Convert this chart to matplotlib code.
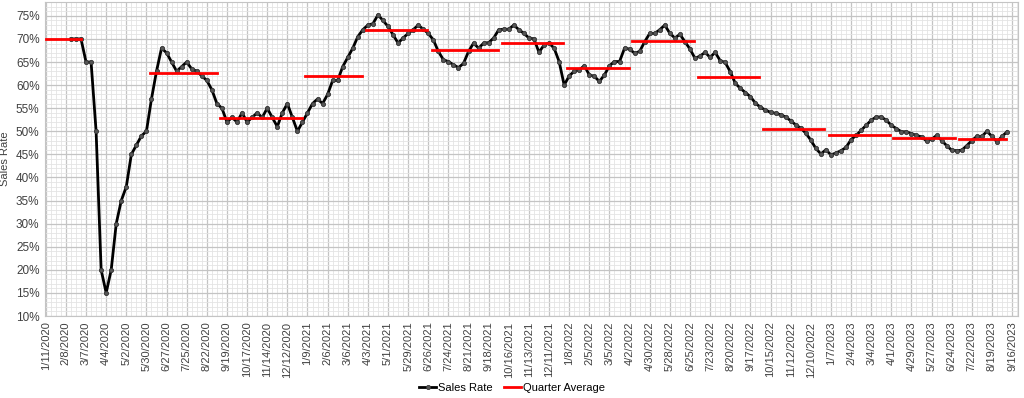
import pandas as pd
import matplotlib
matplotlib.use('Agg')
import matplotlib.pyplot as plt
import matplotlib.dates as mdates
from matplotlib.ticker import MultipleLocator, FixedLocator, FormatStrFormatter

plt.rcParams['font.family'] = ['Liberation Sans', 'DejaVu Sans']

# weekly sales rate (%) starting 2/15/2020
first_week = '2020-02-15'
sales_rate = [
    70, 70, 70, 65, 65, 50, 20, 15, 20, 30, 35, 38, 45, 47, 49, 50,
    57, 63, 68, 67, 65, 63, 64, 65, 63.5, 63, 62, 61, 59, 56, 55,
    52, 53, 52, 54, 52, 53, 54, 53, 55, 53, 51, 54, 56, 53, 50,
    52, 54, 56, 57, 56, 58, 61, 61, 64, 66, 68, 70.5, 72, 73, 73.3,
    75.2, 74, 72.7, 70.9, 69.1, 70.2, 71.2, 72, 73, 72.1, 71.2, 69.8,
    67.3, 65.5, 65.1, 64.4, 63.8, 64.7, 67.3, 69.1, 68, 69.1, 69.2,
    70.2, 72, 72.1, 72.1, 73, 72, 71.2, 70.2, 70, 67.1, 68.7, 69.1,
    68, 65.1, 60, 62, 63, 63.3, 64.2, 62.2, 61.9, 60.8, 62.2, 64.2,
    65.1, 65.1, 68, 67.8, 66.9, 67.3, 69.4, 71.2, 71.2, 72, 73, 71.2,
    70.2, 71, 69.4, 67.8, 65.8, 66.3, 67.1, 66, 67.1, 65.3, 64.9,
    62.9, 60.4, 59.3, 58.4, 57.5, 56.1, 55.2, 54.6, 54.1, 53.9, 53.6,
    53.1, 52.3, 51.4, 50.7, 49.6, 48.1, 46.3, 45.1, 46, 44.9, 45.3,
    45.8, 46.5, 48.2, 49.1, 50.2, 51.3, 52.4, 53.1, 53.1, 52.4, 51.3,
    50.6, 49.9, 49.9, 49.5, 49.1, 48.8, 47.9, 48.3, 49.1, 48, 46.9,
    45.9, 45.8, 45.9, 46.9, 48, 48.9, 48.9, 50, 48.9, 47.7, 48.9, 49.9,
]

# quarter averages (%)
q_start = ['2020-01-11', '2020-06-04', '2020-09-10', '2021-01-06', '2021-03-31',
           '2021-07-01', '2021-10-06', '2022-01-05', '2022-04-06', '2022-07-06',
           '2022-10-05', '2023-01-04', '2023-04-04', '2023-07-04']
q_end = ['2020-02-29', '2020-09-05', '2021-01-01', '2021-03-26', '2021-06-24',
         '2021-10-01', '2021-12-31', '2022-04-01', '2022-06-30', '2022-09-29',
         '2022-12-29', '2023-03-30', '2023-06-28', '2023-09-07']
q_avg = [70.0, 62.6, 52.9, 61.9, 72.0, 67.5, 69.2, 63.8, 69.6, 61.8,
         50.6, 49.1, 48.5, 48.4]

tick_first = '2020-01-11'
tick_last = '2023-09-16'

weeks = pd.date_range(first_week, periods=len(sales_rate), freq='7D')
ticks = pd.date_range(tick_first, tick_last, freq='28D')
minor = pd.date_range(tick_first, '2023-09-30', freq='7D')

fig = plt.figure(figsize=(10.24, 3.98), dpi=100)
ax = fig.add_axes([0.044, 0.206, 0.950, 0.789])

ax.plot(weeks, sales_rate, color='black', lw=2, marker='o', ms=3,
        mfc='#555555', mec='#333333', mew=0.6, label='Sales Rate', zorder=3)
for i, (s, e, v) in enumerate(zip(q_start, q_end, q_avg)):
    ax.plot([pd.Timestamp(s), pd.Timestamp(e)], [v, v], color='red', lw=2,
            label='Quarter Average' if i == 0 else None, zorder=4)

ax.set_ylim(10, 78)
ax.set_xlim(pd.Timestamp('2020-01-10'), pd.Timestamp('2023-09-24'))
ax.yaxis.set_major_locator(MultipleLocator(5))
ax.yaxis.set_minor_locator(MultipleLocator(1))
ax.yaxis.set_major_formatter(FormatStrFormatter('%d%%'))
ax.set_yticks([v for v in range(10, 80, 5)])
ax.set_xticks(mdates.date2num(ticks))
ax.set_xticklabels(['{}/{}/{}'.format(d.month, d.day, d.year) for d in ticks],
                   rotation=90)
ax.xaxis.set_minor_locator(FixedLocator(mdates.date2num(minor)))

ax.grid(which='major', color='#c4c4c4', lw=0.9)
ax.grid(which='minor', color='#e4e4e4', lw=0.6)
ax.set_axisbelow(True)
ax.tick_params(which='both', length=0)
ax.tick_params(axis='x', labelsize=8, colors='#404040', pad=4)
ax.tick_params(axis='y', labelsize=8.5, colors='#404040', pad=4)
for sp in ax.spines.values():
    sp.set_color('#c4c4c4')

ax.set_ylabel('Sales Rate', fontsize=8, color='#404040', labelpad=4)

fig.legend(loc='center', bbox_to_anchor=(0.5, 0.025), ncol=2, frameon=False,
           fontsize=8, handlelength=1.5, handletextpad=0.2, columnspacing=1.0)

plt.savefig('out.png', dpi=100)
